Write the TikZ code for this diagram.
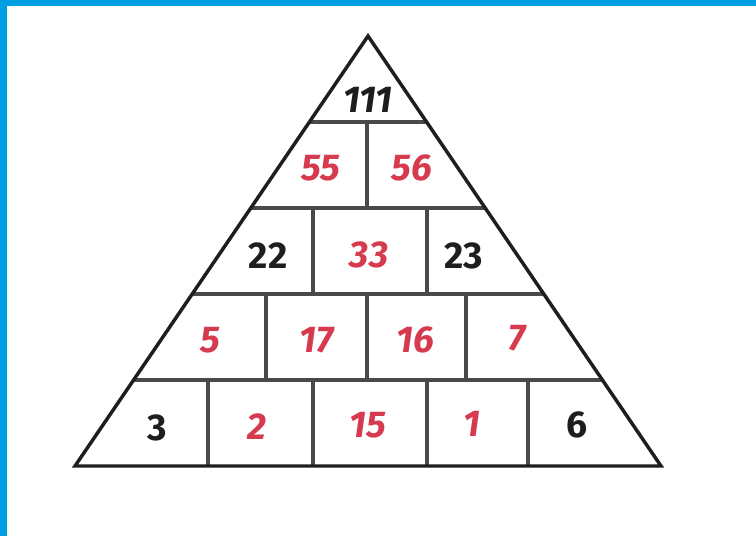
\documentclass[tikz,border=0pt]{standalone}
\usepackage{fontspec}
\setmainfont{Fira Sans}
\usetikzlibrary{calc}
\definecolor{frameBlue}{HTML}{009FE3}
\definecolor{numRed}{HTML}{D63A4E}
\definecolor{numBlack}{HTML}{1E1E1E}
\definecolor{lineGrey}{HTML}{4A4A4A}
\tikzset{
  outline/.style  = {line width=2.6pt, numBlack, line join=miter},
  rowline/.style  = {line width=2.5pt, lineGrey},
  redval/.style   = {font=\fontsize{28}{28}\selectfont\bfseries\itshape, numRed},
  blackval/.style = {font=\fontsize{28}{28}\selectfont\bfseries, numBlack},
  topval/.style   = {font=\fontsize{28}{28}\selectfont\bfseries\itshape, numBlack},
}
\begin{document}
\begin{tikzpicture}[x=0.75pt, y=-0.75pt]
  \useasboundingbox (0,0) rectangle (756,536);
  % frame
  \fill[frameBlue] (0,0) rectangle (756,6);
  \fill[frameBlue] (0,0) rectangle (7,536);
  % pyramid corners
  \coordinate (apex) at (368,36);
  \coordinate (bl) at (75,466);
  \coordinate (br) at (661,466);
  % rows
  \foreach \y in {122,208,294,380}
    \draw[rowline] ($(apex)!{(\y-36)/430}!(bl)$) -- ($(apex)!{(\y-36)/430}!(br)$);
  % bricks
  \draw[rowline] (367,122) -- (367,208);
  \draw[rowline] (313,208) -- (313,294);
  \draw[rowline] (427,208) -- (427,294);
  \foreach \x in {266,367,466}
    \draw[rowline] (\x,294) -- (\x,380);
  \foreach \x in {208,313,427,528}
    \draw[rowline] (\x,380) -- (\x,466);
  \draw[outline] (apex) -- (br) -- (bl) -- cycle;
  % numbers
  \node[topval]   (n111) at (368,100) {111};
  \node[redval]   (n55)  at (321,168) {55};
  \node[redval]   (n56)  at (412,168) {56};
  \node[blackval] (n22)  at (268,256) {22};
  \node[redval]   (n33)  at (369,255) {33};
  \node[blackval] (n23)  at (464,256) {23};
  \node[redval]   (n5)   at (210,340) {5};
  \node[redval]   (n17)  at (317,340) {17};
  \node[redval]   (n16)  at (415,340) {16};
  \node[redval]   (n7)   at (517,338) {7};
  \node[blackval] (n3)   at (157,428) {3};
  \node[redval]   (n2)   at (257,427) {2};
  \node[redval]   (n15)  at (368,425) {15};
  \node[redval]   (n1)   at (472,424) {1};
  \node[blackval] (n6)   at (577,425) {6};
\end{tikzpicture}
\end{document}
